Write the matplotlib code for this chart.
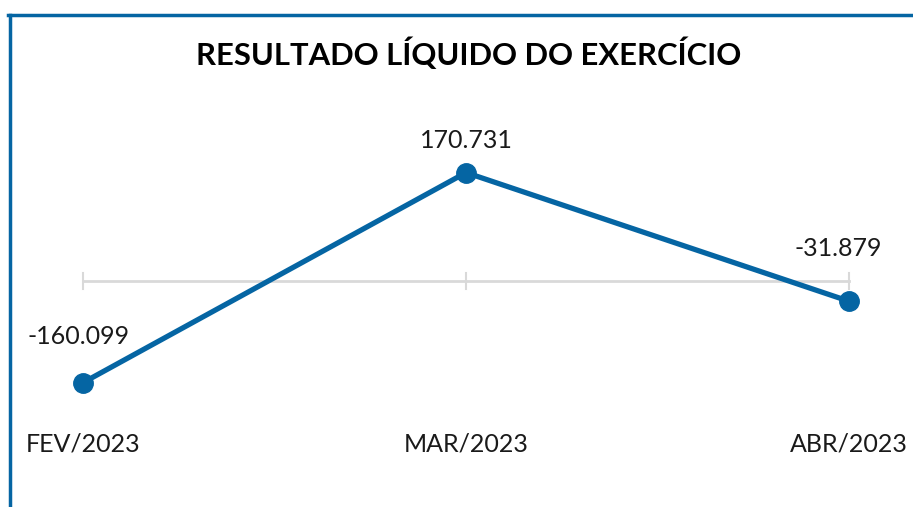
import numpy as np
import matplotlib.pyplot as plt
from matplotlib.lines import Line2D

# Dados
meses = ['FEV/2023', 'MAR/2023', 'ABR/2023']
resultado = [-160099, 170731, -31879]
rotulos = ['-160.099', '170.731', '-31.879']

azul = '#0565a3'
cinza = '#d9d9d9'
fonte = 'Lato'

fig = plt.figure(figsize=(9.13, 5.07), dpi=100)
ax = fig.add_axes([0, 0, 1, 1])
ax.set_xlim(-0.2167, 2.167)
ax.set_ylim(-355950, 442575)
ax.axis('off')

x = np.arange(len(meses))

# linha do eixo com marcas
ax.plot([x[0], x[-1]], [0, 0], color=cinza, lw=2, zorder=1)
for xi in x:
    ax.plot([xi, xi], [-13000, 13000], color=cinza, lw=1.5, zorder=1)

ax.plot(x, resultado, color=azul, lw=3.8, marker='o', markersize=14,
        solid_capstyle='round', zorder=3)

# rótulos de dados
offsets = [(-3, 33), (0, 23), (-8, 38)]
for xi, v, r, off in zip(x, resultado, rotulos, offsets):
    ax.annotate(r, (xi, v), xytext=off, textcoords='offset points',
                ha='center', va='center', fontsize=18, family=fonte, color='#1a1a1a')

# categorias
for xi, m in zip(x, meses):
    ax.text(xi, -256700, m, ha='center', va='center', fontsize=18,
            family=fonte, color='#1a1a1a')

fig.text(0.513, 0.893, 'RESULTADO LÍQUIDO DO EXERCÍCIO', ha='center', va='center',
         fontsize=22.3, fontweight='bold', family=fonte, color='black')

# moldura
fig.add_artist(Line2D([9.5/913, 9.5/913], [0, 1 - 15/507], color=azul, lw=2.5,
                      transform=fig.transFigure))
fig.add_artist(Line2D([8/913, 1], [1 - 15/507, 1 - 15/507], color=azul, lw=2.5,
                      transform=fig.transFigure))

fig.savefig('out.png', dpi=100)
